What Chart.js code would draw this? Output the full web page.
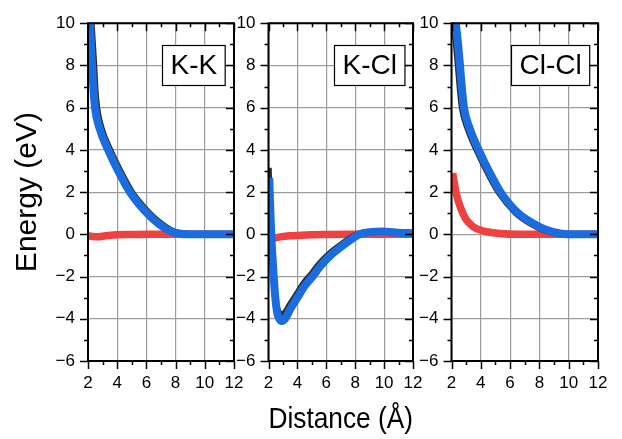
<!DOCTYPE html>
<html>
<head>
<meta charset="utf-8">
<script src="https://cdn.jsdelivr.net/npm/chart.js@4.4.1/dist/chart.umd.min.js"></script>
<style>
  html, body { margin: 0; padding: 0; background: #fff; }
  #wrap { position: relative; width: 622px; height: 439px; }
  #wrap canvas { position: absolute; left: 0; top: 0; }
</style>
</head>
<body>
<div id="wrap">
  <canvas id="panelKK" width="622" height="439"></canvas>
  <canvas id="panelKCl" width="622" height="439"></canvas>
  <canvas id="panelClCl" width="622" height="439"></canvas>
</div>
<script>
// ticks
var xMajor = [2, 4, 6, 8, 10, 12];
var xMinor = [3, 5, 7, 9, 11];
var yMajor = [-6, -4, -2, 0, 2, 4, 6, 8, 10];
var yMinor = [-5, -3, -1, 1, 3, 5, 7, 9];
var panelLabels = ['K-K', 'K-Cl', 'Cl-Cl'];

// K-K
var kkBlueX = [2.08, 2.12, 2.2, 2.28, 2.36, 2.48, 2.8, 3.38, 4.07, 4.87, 5.9, 6.7, 7.5, 8.2, 9.0, 12];
var kkBlueY = [10.5, 10, 9, 8, 7, 6, 5, 4, 3, 2, 1.1, 0.58, 0.2, 0.04, 0, 0];
var kkBlackX = [2.2, 2.25, 2.34, 2.43, 2.5, 2.63, 2.95, 3.53, 4.22, 5.02, 6.05, 6.85, 7.65, 8.35, 9.1, 12];
var kkBlackY = [10.5, 10, 9, 8, 7, 6, 5, 4, 3, 2, 1.12, 0.6, 0.22, 0.05, 0, 0];
var kkRedX = [2.0, 2.3, 2.7, 3.2, 4.0, 5.0, 6.0, 12];
var kkRedY = [-0.07, -0.1, -0.11, -0.07, -0.02, -0.01, 0, 0];

// K-Cl
var kclBlueX = [2.05, 2.1, 2.15, 2.19, 2.27, 2.36, 2.47, 2.6, 2.75, 2.93, 3.15, 3.5, 4.0, 4.5, 5.05, 5.6, 6.3, 7.2, 7.8, 8.3, 9.0, 9.9, 11.0, 12];
var kclBlueY = [2.67, 1.6, 0.7, 0, -1.0, -2.0, -3.0, -3.7, -4.0, -4.1, -4.0, -3.55, -3.0, -2.45, -2.0, -1.5, -1.0, -0.5, -0.2, 0, 0.1, 0.13, 0.08, 0.05];
var kclBlackX = [2.02, 2.06, 2.12, 2.17, 2.25, 2.34, 2.44, 2.58, 2.75, 2.93, 3.12, 3.45, 3.93, 4.42, 4.95, 5.5, 6.2, 7.1, 7.7, 8.25, 9.0, 9.9, 11.0, 12];
var kclBlackY = [3.15, 1.9, 0.9, 0.15, -0.9, -1.9, -2.85, -3.45, -3.72, -3.8, -3.72, -3.35, -2.85, -2.32, -1.88, -1.4, -0.92, -0.44, -0.15, 0.04, 0.12, 0.14, 0.08, 0.05];
var kclRedX = [2.15, 2.2, 2.5, 2.93, 3.5, 4.0, 5.0, 6.0, 8.0, 12];
var kclRedY = [-0.33, -0.25, -0.17, -0.11, -0.07, -0.05, -0.02, -0.01, 0, 0];

// Cl-Cl
var clBlueX = [2.25, 2.3, 2.45, 2.58, 2.7, 2.85, 3.25, 3.85, 4.55, 5.35, 6.55, 7.6, 8.5, 9.5, 10.5, 12];
var clBlueY = [10.5, 10, 9, 8, 7, 6, 5, 4, 3, 2, 1, 0.5, 0.2, 0.03, 0, 0];
var clBlackX = [2.1, 2.15, 2.3, 2.43, 2.55, 2.7, 3.1, 3.7, 4.4, 5.2, 6.4, 7.45, 8.35, 9.35, 10.5, 12];
var clBlackY = [10.5, 10, 9, 8, 7, 6, 5, 4, 3, 2, 1, 0.48, 0.18, 0.02, 0, 0];
var clRedX = [2.08, 2.3, 2.6, 2.95, 3.5, 4.2, 5.3, 6.5, 12];
var clRedY = [2.9, 2.0, 1.3, 0.75, 0.35, 0.15, 0.04, 0, 0];

var FONT = '"Liberation Sans", Arial, sans-serif';

function pts(xs, ys) {
    return xs.map(function (x, i) { return { x: x, y: ys[i] }; });
}

function line(data, color, width) {
    return {
        data: data,
        borderColor: color,
        borderWidth: width,
        pointRadius: 0,
        fill: false,
        cubicInterpolationMode: 'monotone',
        borderCapStyle: 'butt',
        borderJoinStyle: 'round',
        clip: 0
    };
}

// frame, minor/major ticks and the panel label box
var framePlugin = {
    id: 'frame',
    afterDatasetsDraw: function (chart, args, opts) {
        var ctx = chart.ctx, a = chart.chartArea;
        var xs = chart.scales.x, ys = chart.scales.y;
        ctx.save();
        ctx.strokeStyle = '#000';
        ctx.lineWidth = 1.5;
        ctx.beginPath();
        function xt(list, len) {
            list.forEach(function (v) {
                var p = Math.round(xs.getPixelForValue(v)) + 0.5;
                ctx.moveTo(p, a.bottom); ctx.lineTo(p, a.bottom + len);
                ctx.moveTo(p, a.top); ctx.lineTo(p, a.top + len);
            });
        }
        function yt(list, len) {
            list.forEach(function (v) {
                var p = Math.round(ys.getPixelForValue(v)) + 0.5;
                ctx.moveTo(a.left, p); ctx.lineTo(a.left - len, p);
                ctx.moveTo(a.right, p); ctx.lineTo(a.right - len, p);
            });
        }
        xt(xMajor, 8); xt(xMinor, 4);
        yt(yMajor, 8); yt(yMinor, 4);
        ctx.stroke();
        ctx.lineWidth = 2;
        ctx.strokeRect(a.left, a.top, a.right - a.left, a.bottom - a.top);

        ctx.font = '28px ' + FONT;
        var w = ctx.measureText(opts.label).width + 16;
        var bx = Math.round(a.right - 9 - w) + 0.5, by = Math.round(a.top + 22) + 0.5;
        ctx.fillStyle = '#fff';
        ctx.fillRect(bx, by, w, 40);
        ctx.lineWidth = 1.2;
        ctx.strokeRect(bx, by, w, 40);
        ctx.fillStyle = '#000';
        ctx.textAlign = 'center';
        ctx.textBaseline = 'middle';
        ctx.fillText(opts.label, bx + w / 2, by + 21);
        ctx.restore();
    }
};

function makePanel(id, label, padLeft, padRight, yWidth, blue, black, red, yTitle, xTitle) {
    var ctx = document.getElementById(id).getContext('2d');
    return new Chart(ctx, {
        type: 'line',
        data: {
            datasets: [
                line(blue, '#1b6ddf', 8),
                line(black, '#2b2b2b', 6),
                line(red, '#f04141', 7.5)
            ]
        },
        plugins: [framePlugin],
        options: {
            responsive: false,
            animation: false,
            events: [],
            layout: { padding: { left: padLeft, right: padRight, top: 15, bottom: 0 } },
            plugins: {
                legend: { display: false },
                tooltip: { enabled: false },
                frame: { label: label }
            },
            scales: {
                x: {
                    type: 'linear',
                    min: 2,
                    max: 12,
                    afterFit: function (s) { s.height = 78; },
                    grid: { color: '#9c9c9c', lineWidth: 1.2, drawTicks: false },
                    border: { display: false },
                    ticks: {
                        stepSize: 2,
                        autoSkip: false,
                        maxRotation: 0,
                        padding: 12,
                        color: '#000',
                        font: { family: FONT, size: 17 }
                    },
                    title: {
                        display: !!xTitle,
                        text: xTitle || '',
                        color: '#000',
                        font: { family: FONT, size: 30 },
                        padding: { top: 0, bottom: 1 }
                    }
                },
                y: {
                    type: 'linear',
                    min: -6,
                    max: 10,
                    afterFit: function (s) { s.width = yWidth; },
                    grid: { color: '#9c9c9c', lineWidth: 1.2, drawTicks: false },
                    border: { display: false },
                    ticks: {
                        stepSize: 2,
                        padding: 13,
                        color: '#000',
                        font: { family: FONT, size: 17 },
                        callback: function (v) { return v < 0 ? '\u2212' + Math.abs(v) : String(v); }
                    },
                    title: {
                        display: !!yTitle,
                        text: yTitle || '',
                        color: '#000',
                        font: { family: FONT, size: 30 },
                        padding: { top: 10, bottom: 0 }
                    }
                }
            }
        }
    });
}

makePanel('panelKK', panelLabels[0], 0, 388, 88,
    pts(kkBlueX, kkBlueY), pts(kkBlackX, kkBlackY), pts(kkRedX, kkRedY), 'Energy (eV)', null);
makePanel('panelKCl', panelLabels[1], 228.5, 209, 40,
    pts(kclBlueX, kclBlueY), pts(kclBlackX, kclBlackY), pts(kclRedX, kclRedY), null, 'Distance (\u00c5)');
makePanel('panelClCl', panelLabels[2], 411.5, 24, 40,
    pts(clBlueX, clBlueY), pts(clBlackX, clBlackY), pts(clRedX, clRedY), null, null);
</script>
</body>
</html>
